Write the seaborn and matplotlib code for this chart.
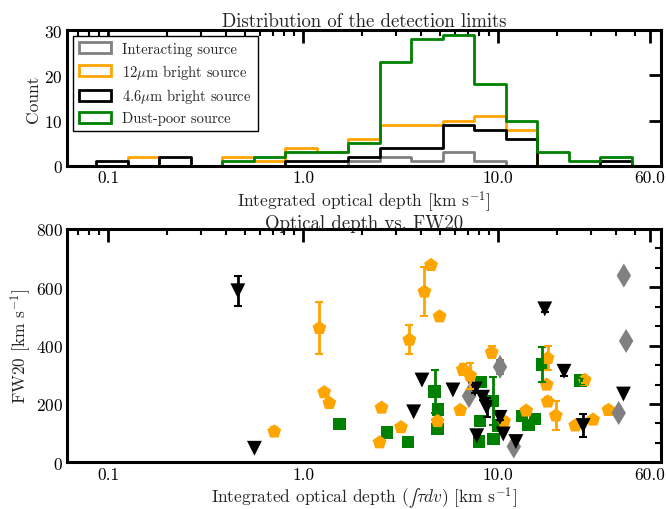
import numpy as np
import pandas as pd
import matplotlib
matplotlib.use("Agg")
import matplotlib.pyplot as plt
import seaborn as sns
from matplotlib.patches import Patch
from matplotlib.ticker import FormatStrFormatter, AutoMinorLocator, NullFormatter

# --- histogram data (counts per log bin) ---
bin_lo, bin_hi, n_bins = 0.06, 70.0, 19
labels = ["Interacting source", r"12$\mu$m bright source",
          r"4.6$\mu$m bright source", "Dust-poor source"]
colors = ["gray", "orange", "black", "green"]
counts_interacting = [0, 0, 0, 0, 0, 0, 0, 0, 0, 1, 2, 1, 3, 1, 0, 0, 0, 0, 0]
counts_12um = [0, 0, 2, 0, 0, 2, 1, 4, 3, 6, 9, 9, 10, 11, 8, 0, 0, 0, 0]
counts_46um = [0, 1, 0, 2, 0, 0, 0, 1, 1, 2, 4, 4, 9, 8, 6, 0, 0, 1, 0]
counts_dustpoor = [0, 0, 0, 0, 0, 1, 2, 3, 3, 5, 23, 28, 29, 18, 10, 3, 1, 2, 0]

# --- scatter data: integrated optical depth, FW20, FW20 error ---
tau_12 = [0.71, 1.21, 1.28, 1.36, 2.46, 2.52, 3.17, 3.5, 4.18, 4.52, 5.0, 4.88,
          6.38, 6.58, 7.17, 9.25, 10.7, 13.9, 17.9, 17.7, 17.9, 19.7, 24.8,
          27.7, 30.6, 36.7]
fw_12 = [105, 460, 240, 203, 68, 187, 120, 420, 585, 676, 500, 141,
         179, 318, 297, 377, 141, 177, 357, 266, 208, 160, 126,
         282, 146, 179]
err_12 = [15, 90, 0, 15, 0, 0, 0, 50, 85, 0, 0, 15,
          0, 20, 45, 20, 0, 0, 40, 0, 15, 50, 0,
          10, 0, 15]

tau_dp = [1.53, 2.68, 3.44, 4.71, 4.9, 4.88, 8.15, 9.35, 8.06, 7.97, 9.43,
          9.93, 13.2, 14.3, 15.4, 16.8, 26.4]
fw_dp = [131, 102, 69, 243, 181, 114, 276, 211, 142, 71, 80,
         126, 159, 128, 148, 335, 280]
err_dp = [0, 0, 0, 75, 0, 0, 0, 82, 10, 0, 0,
          0, 0, 0, 0, 60, 10]

tau_46 = [0.462, 0.562, 3.68, 4.06, 5.85, 7.6, 8.3, 8.7, 7.75, 10.2, 10.6,
          12.3, 17.3, 21.7, 27.2, 43.8]
fw_46 = [588, 48, 173, 282, 248, 251, 223, 188, 91, 154, 97,
         71, 526, 312, 126, 234]
err_46 = [52, 0, 0, 0, 0, 15, 10, 34, 0, 10, 0,
          0, 12, 15, 40, 0]

tau_int = [7.07, 10.2, 12.0, 41.4, 44.0, 45.2]
fw_int = [227, 327, 54, 169, 640, 416]
err_int = [0, 25, 0, 0, 0, 0]

# --- style ---
sns.set_theme(style="white")
plt.rcParams.update({
    "font.family": ["cmr10", "DejaVu Serif"],
    "mathtext.fontset": "cm",
    "axes.unicode_minus": False,
    "axes.formatter.use_mathtext": True,
    "axes.linewidth": 2.2,
    "axes.edgecolor": "black",
    "xtick.direction": "in", "ytick.direction": "in",
    "xtick.top": True, "ytick.right": True,
    "xtick.major.size": 9, "ytick.major.size": 9,
    "xtick.minor.size": 4.5, "ytick.minor.size": 4.5,
    "xtick.major.width": 2, "ytick.major.width": 2,
    "xtick.minor.width": 1.5, "ytick.minor.width": 1.5,
    "xtick.major.pad": 3, "ytick.major.pad": 3,
    "xtick.color": "black", "ytick.color": "black",
    "xtick.labelsize": 12.5, "ytick.labelsize": 12.5,
    "axes.labelsize": 12.5, "axes.titlesize": 13.5,
    "axes.labelpad": 2,
    "font.size": 12.5,
})

fig = plt.figure(figsize=(6.66, 5.10), dpi=100)
ax1 = fig.add_axes([0.1006, 0.673, 0.8915, 0.266])
ax2 = fig.add_axes([0.1006, 0.0916, 0.8915, 0.4575])

edges = np.logspace(np.log10(bin_lo), np.log10(bin_hi), n_bins + 1)
centers = np.sqrt(edges[:-1] * edges[1:])
log_edges = list(np.log10(edges))
ax1.set_xscale("log")
for cnt, c in zip([counts_interacting, counts_12um, counts_46um, counts_dustpoor], colors):
    sns.histplot(x=centers, weights=cnt, bins=log_edges, element="step",
                 fill=False, color=c, linewidth=2, ax=ax1)

handles = [Patch(facecolor="none", edgecolor=c, linewidth=2) for c in colors]
leg = ax1.legend(handles, labels, loc="upper left", fontsize=10.5, frameon=True,
                 fancybox=False, edgecolor="black", framealpha=1,
                 borderaxespad=0.4, handlelength=2.2, handleheight=0.8,
                 labelspacing=0.4, borderpad=0.4)
leg.get_frame().set_linewidth(1.0)

ax1.set_ylim(0, 30)
ax1.set_yticks([0, 10, 20, 30])
ax1.set_ylabel("Count")
ax1.set_xlabel(r"Integrated optical depth [km s$^{-1}$]")
ax1.set_title("Distribution of the detection limits", pad=3)

# --- scatter panel ---
ax2.set_xscale("log")
scatter_sets = [
    (tau_dp, fw_dp, err_dp, "green", "s", 80),
    (tau_12, fw_12, err_12, "orange", "p", 110),
    (tau_int, fw_int, err_int, "gray", "d", 150),
    (tau_46, fw_46, err_46, "black", "v", 115),
]
for tx, fy, ey, c, m, s in scatter_sets:
    df = pd.DataFrame({"tau": tx, "fw": fy, "err": ey})
    eb = df[df["err"] > 0]
    ax2.errorbar(eb["tau"], eb["fw"], yerr=eb["err"], fmt="none", ecolor=c,
                 elinewidth=2, capsize=3, capthick=1.5)
    sns.scatterplot(data=df, x="tau", y="fw", marker=m, color=c, s=s,
                    edgecolor="none", ax=ax2)

ax2.set_ylim(0, 800)
ax2.set_yticks([0, 200, 400, 600, 800])
ax2.yaxis.set_minor_locator(AutoMinorLocator(3))
ax2.set_ylabel(r"FW20 [km s$^{-1}$]")
ax2.set_xlabel("Integrated optical depth ($\u222b\\tau dv$) [km s$^{-1}$]")
ax2.set_title("Optical depth vs. FW20", pad=1)

for ax in (ax1, ax2):
    ax.set_xlim(0.0615, 68)
    ax.set_xticks([0.1, 1, 10, 60])
    ax.xaxis.set_major_formatter(FormatStrFormatter("%.1f"))
    ax.xaxis.set_minor_formatter(NullFormatter())
    ax.tick_params(which="both", top=True, right=True)

fig.savefig("out.png", dpi=100)
